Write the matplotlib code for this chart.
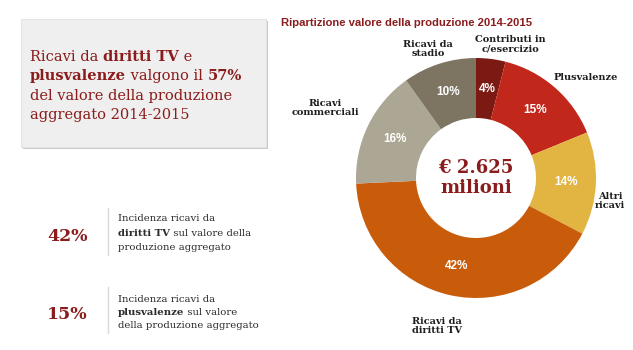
import matplotlib
matplotlib.use("Agg")
import matplotlib.pyplot as plt
from matplotlib.patches import Rectangle

W, H = 633, 350

# dati
categorie = ["Contributi in\nc/esercizio", "Plusvalenze", "Altri\nricavi",
             "Ricavi da\ndiritti TV", "Ricavi\ncommerciali", "Ricavi da\nstadio"]
quote = [4, 15, 14, 42, 16, 10]
colori = ["#7b1a13", "#c1281b", "#e2b441", "#c95c0b", "#aca694", "#7d7562"]
totale = "€ 2.625\nmilioni"
titolo = "Ripartizione valore della produzione 2014-2015"

ROSSO = "#8b1c1c"
SERIF = "DejaVu Serif"

fig = plt.figure(figsize=(W / 100, H / 100), dpi=100)
fig.patch.set_facecolor("white")
renderer = fig.canvas.get_renderer()


def px(x, y):
    return x / W, 1 - y / H


def riga(x, y, parti, size, color, family=SERIF):
    # scrive una riga con parti in grassetto e normali una dopo l'altra
    for testo, bold in parti:
        t = fig.text(*px(x, y), testo, fontsize=size, color=color, family=family,
                     fontweight="bold" if bold else "normal", va="baseline", ha="left")
        bb = t.get_window_extent(renderer)
        x += bb.width


# riquadro grigio con ombra
fig.patches.append(Rectangle(px(23, 149), 245 / W, 128 / H, transform=fig.transFigure,
                             facecolor="#c8c8c8", edgecolor="none", zorder=0))
fig.patches.append(Rectangle(px(21, 147), 245 / W, 128 / H, transform=fig.transFigure,
                             facecolor="#efefef", edgecolor="#e4e4e4", lw=0.8, zorder=1))

fs_box = 10.5
riga(30, 61, [("Ricavi da ", False), ("diritti TV", True), (" e", False)], fs_box, ROSSO)
riga(30, 80, [("plusvalenze", True), (" valgono il ", False), ("57%", True)], fs_box, ROSSO)
riga(30, 100, [("del valore della produzione", False)], fs_box, ROSSO)
riga(30, 119, [("aggregato 2014-2015", False)], fs_box, ROSSO)

# riquadri in basso
fig.text(*px(47, 241), "42%", fontsize=12.5, fontweight="bold", color=ROSSO, family=SERIF)
fig.text(*px(47, 319), "15%", fontsize=12.5, fontweight="bold", color=ROSSO, family=SERIF)
for y0, y1 in [(208, 255), (287, 333)]:
    fig.add_artist(plt.Line2D([108 / W, 108 / W], [1 - y0 / H, 1 - y1 / H],
                              color="#d9d9d9", lw=1))

fs_small = 7.3
GRIGIO = "#2b2b2b"
riga(118, 221, [("Incidenza ricavi da", False)], fs_small, GRIGIO)
riga(118, 236, [("diritti TV", True), (" sul valore della", False)], fs_small, GRIGIO)
riga(118, 250, [("produzione aggregato", False)], fs_small, GRIGIO)
riga(118, 302, [("Incidenza ricavi da", False)], fs_small, GRIGIO)
riga(118, 315, [("plusvalenze", True), (" sul valore", False)], fs_small, GRIGIO)
riga(118, 328, [("della produzione aggregato", False)], fs_small, GRIGIO)

# titolo del grafico
fig.text(*px(281, 26), titolo, fontsize=8.1, fontweight="bold", color=ROSSO,
         family="Liberation Sans")

# ciambella
cx, cy, r = 476, 178, 120
ax = fig.add_axes([(cx - r) / W, (H - cy - r) / H, 2 * r / W, 2 * r / H])
wedges, _, pct = ax.pie(quote, colors=colori, startangle=90, counterclock=False,
                        radius=1, autopct="%.0f%%", pctdistance=0.75,
                        wedgeprops=dict(width=0.5, edgecolor="none"),
                        textprops=dict(color="white", fontsize=8.5, fontweight="bold",
                                       family="Liberation Sans"))
ax.set_xlim(-1, 1)
ax.set_ylim(-1, 1)
ax.axis("off")
ax.text(0, 0.0, totale, ha="center", va="center", fontsize=13, fontweight="bold",
        color=ROSSO, family=SERIF, linespacing=1.1)

# etichette delle categorie
pos_etichette = [(510, 44, "center"), (586, 78, "center"), (610, 201, "center"),
                 (437, 326, "center"), (325, 108, "center"), (428, 49, "center")]
for nome, (x, y, ha) in zip(categorie, pos_etichette):
    fig.text(*px(x, y), nome, ha=ha, va="center", fontsize=7.0, fontweight="bold",
             color="#1e1e1e", family=SERIF, linespacing=1.05)

fig.savefig("out.png", dpi=100)
